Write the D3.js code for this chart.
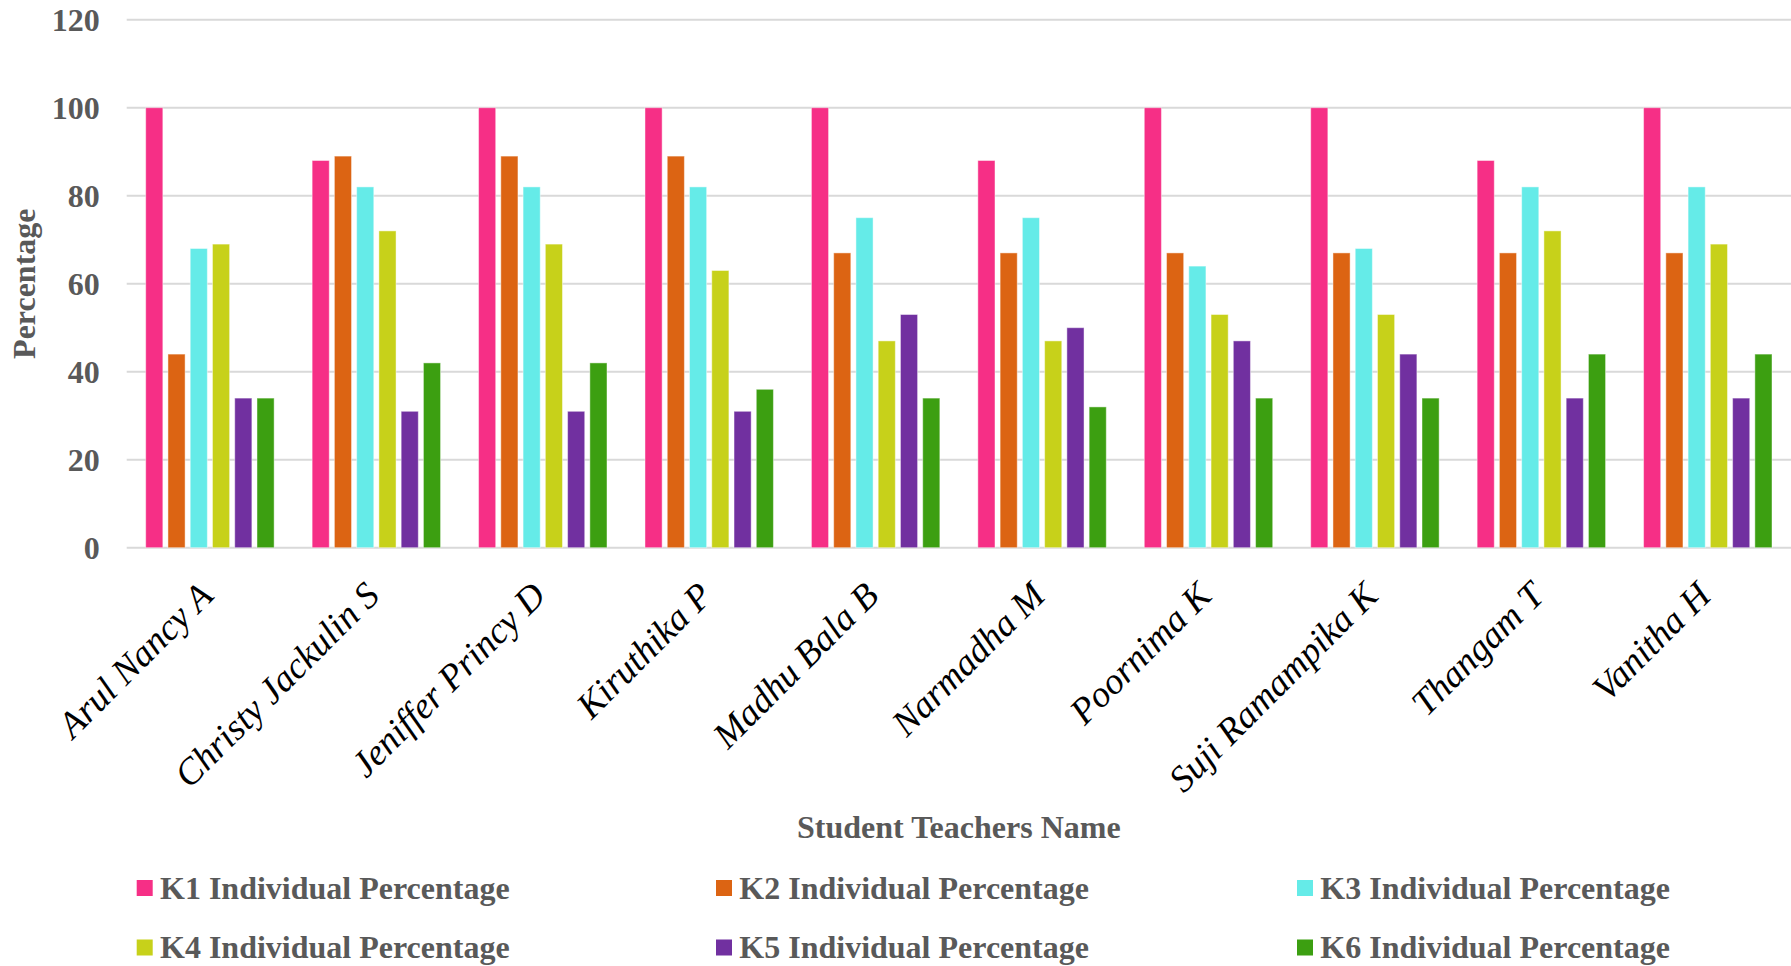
<!DOCTYPE html>
<html>
<head>
<meta charset="utf-8">
<script src="https://cdn.jsdelivr.net/npm/d3@7/dist/d3.min.js"></script>
<style>
  html, body { margin: 0; padding: 0; background: #ffffff; }
  svg { display: block; }
  text { font-family: "Liberation Serif", "Times New Roman", serif; }
</style>
</head>
<body>
<svg id="chart" width="1791" height="966"></svg>
<script>
// Student teachers (x categories)
const names = [
  "Arul Nancy A", "Christy Jackulin S", "Jeniffer Princy D", "Kiruthika P",
  "Madhu Bala B", "Narmadha M", "Poornima K", "Suji Ramampika K",
  "Thangam T", "Vanitha H"
];

// Series names
const seriesNames = [
  "K1 Individual Percentage", "K2 Individual Percentage", "K3 Individual Percentage",
  "K4 Individual Percentage", "K5 Individual Percentage", "K6 Individual Percentage"
];

// Values per series, one per student
const k1 = [100, 88, 100, 100, 100, 88, 100, 100, 88, 100];
const k2 = [44, 89, 89, 89, 67, 67, 67, 67, 67, 67];
const k3 = [68, 82, 82, 82, 75, 75, 64, 68, 82, 82];
const k4 = [69, 72, 69, 63, 47, 47, 53, 53, 72, 69];
const k5 = [34, 31, 31, 31, 53, 50, 47, 44, 34, 34];
const k6 = [34, 42, 42, 36, 34, 32, 34, 34, 44, 44];

const yTicks = [0, 20, 40, 60, 80, 100, 120];

const colors = ["#f62f86", "#dc6413", "#65ebe8", "#c7d11a", "#7130a0", "#3c9f11"];

const seriesValues = [k1, k2, k3, k4, k5, k6];
const rows = names.map((n, i) => ({
  name: n,
  values: seriesNames.map((s, j) => ({ key: s, value: seriesValues[j][i], color: colors[j] }))
}));

const svg = d3.select("#chart");
const textGray = "#595959";
const serif = "'Liberation Serif', 'Times New Roman', serif";

// Plot area
const plotLeft = 126.7, plotRight = 1791, plotTop = 19.7, plotBottom = 547.7;

const x0 = d3.scaleBand().domain(names).range([plotLeft, plotRight]).padding(0);
const groupPad = 19;
const x1 = d3.scaleBand().domain(seriesNames)
  .range([groupPad, x0.bandwidth() - groupPad])
  .paddingInner(0.23).paddingOuter(0);
const y = d3.scaleLinear().domain([0, 120]).range([plotBottom, plotTop]);

// Gridlines
svg.append("g").selectAll("line")
  .data(yTicks)
  .join("line")
  .attr("x1", plotLeft).attr("x2", plotRight)
  .attr("y1", d => y(d)).attr("y2", d => y(d))
  .attr("stroke", "#d9d9d9").attr("stroke-width", 2);

// Y axis labels
const yAxis = svg.append("g")
  .attr("transform", `translate(${plotLeft - 27},0)`)
  .call(d3.axisLeft(y).tickValues(yTicks).tickSize(0).tickPadding(0));
yAxis.attr("font-family", serif);
yAxis.select(".domain").remove();
yAxis.selectAll("text")
  .style("font-family", serif)
  .attr("font-size", 32).attr("font-weight", "bold")
  .attr("fill", textGray).attr("dy", "0.33em");

// Bars
const groups = svg.append("g").selectAll("g")
  .data(rows)
  .join("g")
  .attr("transform", d => `translate(${x0(d.name)},0)`);

groups.selectAll("rect")
  .data(d => d.values)
  .join("rect")
  .attr("x", d => x1(d.key))
  .attr("width", x1.bandwidth())
  .attr("y", d => y(d.value))
  .attr("height", d => y(0) - y(d.value))
  .attr("fill", d => d.color)
  .attr("stroke", "#ffffff").attr("stroke-opacity", 0.45).attr("stroke-width", 1);

// X axis category labels, rotated
const xAxis = svg.append("g")
  .attr("transform", `translate(0,${plotBottom})`)
  .call(d3.axisBottom(x0).tickSize(0).tickPadding(0));
xAxis.attr("font-family", serif);
xAxis.select(".domain").remove();
xAxis.selectAll(".tick text")
  .style("font-family", serif)
  .style("font-style", "italic")
  .attr("font-size", 37).attr("font-weight", "normal")
  .attr("fill", "#000000")
  .attr("text-anchor", "end")
  .attr("dy", null).attr("y", null)
  .attr("transform", "translate(5,50) rotate(-45)");

// Axis titles
svg.append("text")
  .attr("x", (plotLeft + plotRight) / 2).attr("y", 838)
  .attr("text-anchor", "middle")
  .attr("font-size", 32).attr("font-weight", "bold").attr("fill", textGray)
  .text("Student Teachers Name");

svg.append("text")
  .attr("transform", `translate(35,${(plotTop + plotBottom) / 2}) rotate(-90)`)
  .attr("text-anchor", "middle")
  .attr("font-size", 32).attr("font-weight", "bold").attr("fill", textGray)
  .text("Percentage");

// Legend: 3 columns x 2 rows
const legendX = [136.7, 716, 1297];
const legendY = [888, 947.5];
const legend = svg.append("g").selectAll("g")
  .data(seriesNames)
  .join("g")
  .attr("transform", (d, i) => `translate(${legendX[i % 3]},${legendY[Math.floor(i / 3)]})`);
legend.append("rect")
  .attr("x", 0).attr("y", -8).attr("width", 16).attr("height", 16)
  .attr("fill", (d, i) => colors[i]);
legend.append("text")
  .attr("x", 23.3).attr("y", 10.5)
  .attr("font-size", 32).attr("font-weight", "bold").attr("fill", textGray)
  .text(d => d);
</script>
</body>
</html>
